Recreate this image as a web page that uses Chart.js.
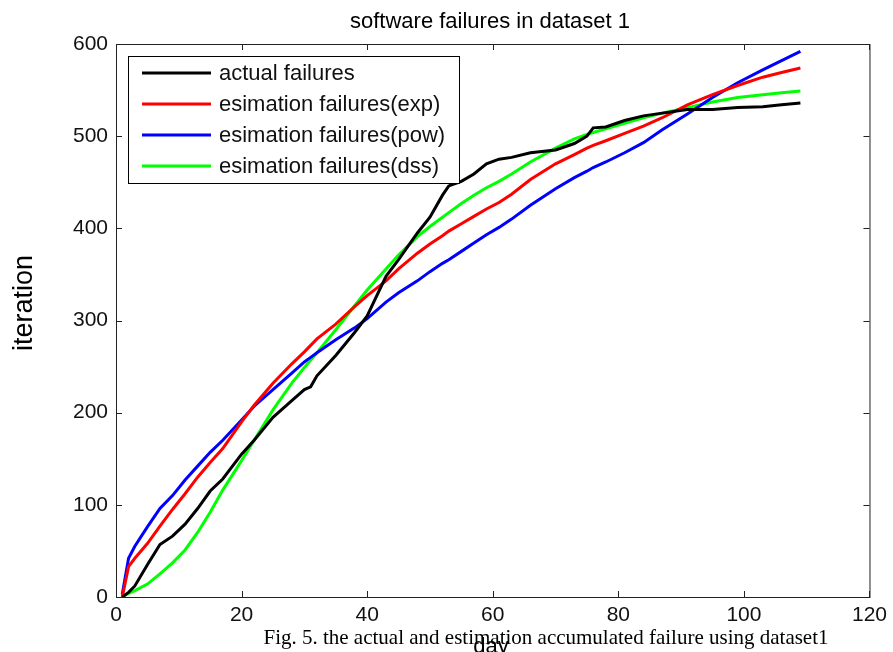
<!DOCTYPE html>
<html>
<head>
<meta charset="utf-8">
<script src="https://cdn.jsdelivr.net/npm/chart.js@4.4.1/dist/chart.umd.min.js"></script>
<style>
  html, body { margin: 0; padding: 0; background: #fff; }
  #wrap { position: relative; width: 893px; height: 652px; overflow: hidden; }
  #caption {
    position: absolute; left: 0; width: 1092px; top: 625px;
    text-align: center; font: 21px "Liberation Serif", "Times New Roman", serif; color: #000;
  }
</style>
</head>
<body>
<div id="wrap">
  <canvas id="failChart" width="893" height="652"></canvas>
  <div id="caption">Fig. 5. the actual and estimation accumulated failure using dataset1</div>
</div>
<script>
// days sampled along the curves
const days = [1, 2, 3, 5, 7, 9, 11, 13, 15, 17, 20, 22, 25, 28, 30, 31, 32, 35, 38, 40, 43, 45, 48, 50, 52, 53,
    55, 57, 59, 61, 63, 66, 70, 73, 75, 76, 78, 81, 84, 87, 91, 95, 99, 103, 106, 109];

const actualFailures = [0, 5, 12, 35, 57, 66, 79, 96, 115, 128, 155, 170, 195, 213, 225, 228, 240, 262, 287, 305, 348, 366, 395, 412, 436, 446,
    451, 459, 470, 475, 477, 482, 485, 492, 500, 509, 510, 517, 522, 525, 529, 529, 531, 532, 534, 536];

const expFailures = [0, 33, 42, 58, 77, 95, 112, 130, 146, 161, 190, 208, 232, 253, 266, 273, 280, 296, 315, 327, 343, 356, 373, 383, 392, 397,
    405, 413, 421, 428, 437, 453, 470, 480, 487, 490, 495, 503, 511, 520, 534, 545, 555, 564, 569, 574];

const powFailures = [3, 42, 55, 76, 96, 110, 127, 142, 157, 170, 192, 207, 225, 243, 255, 260, 265, 279, 292, 302, 320, 330, 343, 353, 362, 366,
    375, 384, 393, 401, 410, 425, 443, 455, 462, 466, 472, 482, 493, 507, 524, 542, 558, 572, 582, 592];

const dssFailures = [0, 4, 7, 14, 25, 37, 51, 70, 92, 116, 148, 170, 203, 232, 249, 257, 265, 290, 316, 333, 356, 371, 391, 402, 412, 417,
    427, 436, 444, 451, 459, 472, 487, 497, 502, 504, 508, 514, 520, 525, 531, 537, 542, 545, 547, 549];

const xTicks = [0, 20, 40, 60, 80, 100, 120];
const yTicks = [0, 100, 200, 300, 400, 500, 600];

const seriesNames = ['actual failures', 'esimation failures(exp)', 'esimation failures(pow)', 'esimation failures(dss)'];
const seriesColors = ['#000000', '#ff0000', '#0000ff', '#00ff00'];

function toPoints(vals) {
    return days.map((d, i) => ({ x: d, y: vals[i] }));
}

const datasets = [actualFailures, expFailures, powFailures, dssFailures].map((vals, i) => ({
    label: seriesNames[i],
    data: toPoints(vals),
    borderColor: seriesColors[i],
    backgroundColor: seriesColors[i],
    borderWidth: 3,
    pointRadius: 0,
    tension: 0,
    fill: false
}));

// box, inward ticks, titles and legend in matlab style
const matlabFrame = {
    id: 'matlabFrame',
    afterDraw(chart) {
        const ctx = chart.ctx;
        const a = chart.chartArea;
        const xs = chart.scales.x, ys = chart.scales.y;
        ctx.save();
        ctx.strokeStyle = '#222';
        ctx.lineWidth = 1;
        ctx.strokeRect(a.left + 0.5, a.top + 0.5, a.right - a.left, a.bottom - a.top);
        ctx.beginPath();
        xTicks.forEach(v => {
            const px = Math.round(xs.getPixelForValue(v)) + 0.5;
            ctx.moveTo(px, a.bottom); ctx.lineTo(px, a.bottom - 6);
            ctx.moveTo(px, a.top); ctx.lineTo(px, a.top + 6);
        });
        yTicks.forEach(v => {
            const py = Math.round(ys.getPixelForValue(v)) + 0.5;
            ctx.moveTo(a.left, py); ctx.lineTo(a.left + 6, py);
            ctx.moveTo(a.right, py); ctx.lineTo(a.right - 6, py);
        });
        ctx.stroke();

        ctx.fillStyle = '#000';
        ctx.textAlign = 'center';
        ctx.textBaseline = 'middle';
        ctx.font = '22px "Liberation Sans", Arial, sans-serif';
        ctx.fillText('software failures in dataset 1', 490, 22);

        ctx.font = '22px "Liberation Sans", Arial, sans-serif';
        ctx.textBaseline = 'top';
        ctx.fillText('day', 491, 636);

        ctx.save();
        ctx.translate(25, 303);
        ctx.rotate(-Math.PI / 2);
        ctx.textBaseline = 'middle';
        ctx.font = '27px "Liberation Sans", Arial, sans-serif';
        ctx.fillText('iteration', 0, 0);
        ctx.restore();

        // legend box
        ctx.fillStyle = '#fff';
        ctx.fillRect(128, 56, 331, 127);
        ctx.strokeStyle = '#000';
        ctx.strokeRect(128.5, 56.5, 331, 127);
        ctx.font = '22px "Liberation Sans", Arial, sans-serif';
        ctx.textAlign = 'left';
        ctx.textBaseline = 'middle';
        chart.data.datasets.forEach((ds, i) => {
            const y = 73 + i * 31;
            ctx.strokeStyle = ds.borderColor;
            ctx.lineWidth = 3;
            ctx.beginPath();
            ctx.moveTo(142, y); ctx.lineTo(211, y);
            ctx.stroke();
            ctx.fillStyle = '#111';
            ctx.fillText(ds.label, 219, y + 1);
        });
        ctx.restore();
    }
};

window.addEventListener('load', () => {
    const ctx = document.getElementById('failChart').getContext('2d');
    new Chart(ctx, {
        type: 'line',
        data: { datasets: datasets },
        options: {
            responsive: false,
            animation: false,
            layout: { padding: { top: 44, right: 19, left: 0, bottom: 0 } },
            plugins: {
                legend: { display: false },
                title: { display: false },
                tooltip: { enabled: false }
            },
            scales: {
                x: {
                    type: 'linear',
                    min: 0,
                    max: 120,
                    afterFit: s => { s.height = 55; },
                    afterBuildTicks: s => { s.ticks = xTicks.map(v => ({ value: v })); },
                    grid: { display: false, drawTicks: false },
                    border: { display: false },
                    ticks: {
                        color: '#111',
                        padding: 6,
                        maxRotation: 0,
                        font: { family: '"Liberation Sans", Arial, sans-serif', size: 21 }
                    }
                },
                y: {
                    min: 0,
                    max: 600,
                    afterFit: s => { s.width = 116; },
                    afterBuildTicks: s => { s.ticks = yTicks.map(v => ({ value: v })); },
                    grid: { display: false, drawTicks: false },
                    border: { display: false },
                    ticks: {
                        color: '#111',
                        padding: 8,
                        font: { family: '"Liberation Sans", Arial, sans-serif', size: 21 }
                    }
                }
            }
        },
        plugins: [matlabFrame]
    });
});
</script>
</body>
</html>
